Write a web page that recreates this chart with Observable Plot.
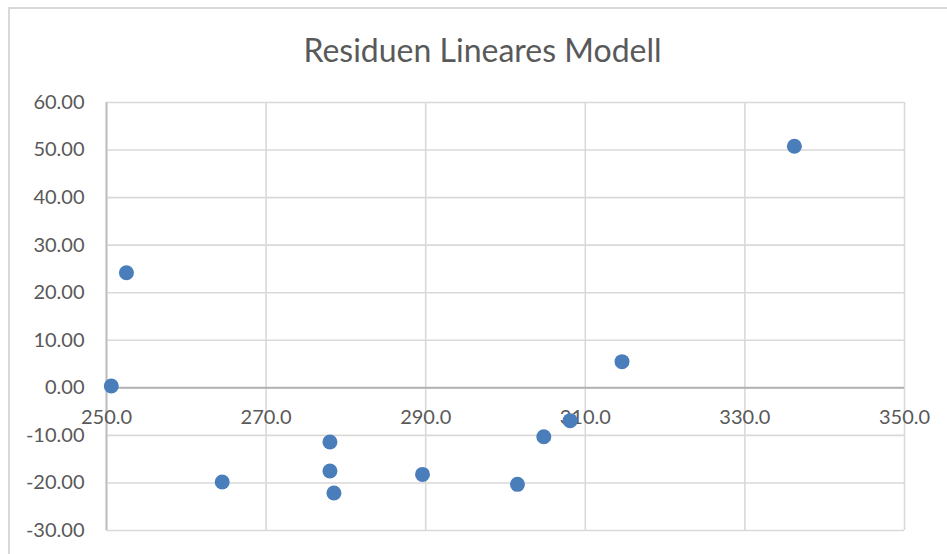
<!DOCTYPE html>
<html>
<head>
<meta charset="utf-8">
<script src="https://cdn.jsdelivr.net/npm/d3@7"></script>
<script src="https://cdn.jsdelivr.net/npm/@observablehq/plot@0.6"></script>
<style>
  body { margin: 0; background: #fff; }
  #wrap { position: relative; width: 947px; height: 554px; overflow: hidden; background: #fff; font-family: Lato, "Open Sans", sans-serif; }
  #frame { position: absolute; left: 8px; top: 7px; width: 1000px; height: 700px; border: 2px solid #d9d9d9; box-sizing: border-box; pointer-events: none; }
  #title { height: 80px; box-sizing: border-box; padding-top: 32px; padding-left: 18px; text-align: center; font-size: 32px; line-height: 36px; color: #595959; }
  #chart svg { display: block; }
</style>
</head>
<body>
<div id="wrap">
  <div id="frame"></div>
  <div id="title">Residuen Lineares Modell</div>
  <div id="chart"></div>
</div>
<script>
const xValues = [250.6, 252.5, 264.5, 278.0, 278.0, 278.5, 289.6, 301.5, 304.8, 308.1, 314.6, 336.2];
const residuals = [0.4, 24.2, -19.8, -11.4, -17.5, -22.1, -18.2, -20.3, -10.3, -6.9, 5.5, 50.8];
const xTicks = [250, 270, 290, 310, 330, 350];
const yTicks = [-30, -20, -10, 0, 10, 20, 30, 40, 50, 60];

const data = xValues.map((x, i) => ({x, y: residuals[i]}));

const chart = Plot.plot({
  width: 947,
  height: 474,
  marginTop: 22,
  marginBottom: 24,
  marginLeft: 106,
  marginRight: 43,
  style: {fontFamily: "Lato, 'Open Sans', sans-serif", fontSize: "20px", color: "#595959", background: "transparent"},
  x: {domain: [250, 350], axis: null},
  y: {domain: [-30, 60], axis: null},
  marks: [
    Plot.gridX(xTicks, {stroke: "#d9d9d9", strokeOpacity: 1, strokeWidth: 1.6}),
    Plot.gridY(yTicks, {stroke: "#d9d9d9", strokeOpacity: 1, strokeWidth: 1.6}),
    Plot.ruleX([250], {stroke: "#bfbfbf", strokeWidth: 2}),
    Plot.ruleY([0], {stroke: "#b3b3b3", strokeWidth: 2}),
    Plot.axisY(yTicks, {tickSize: 0, tickPadding: 22, tickFormat: d => d.toFixed(2), label: null, fill: "#595959", fontSize: 20}),
    Plot.text(xTicks, {x: d => d, y: () => 0, dy: 30, text: d => d.toFixed(1), fill: "#595959", fontSize: 20}),
    Plot.dot(data, {x: "x", y: "y", r: 7.5, fill: "#4a7ebb", stroke: "none"})
  ]
});
document.getElementById("chart").appendChild(chart);
</script>
</body>
</html>
